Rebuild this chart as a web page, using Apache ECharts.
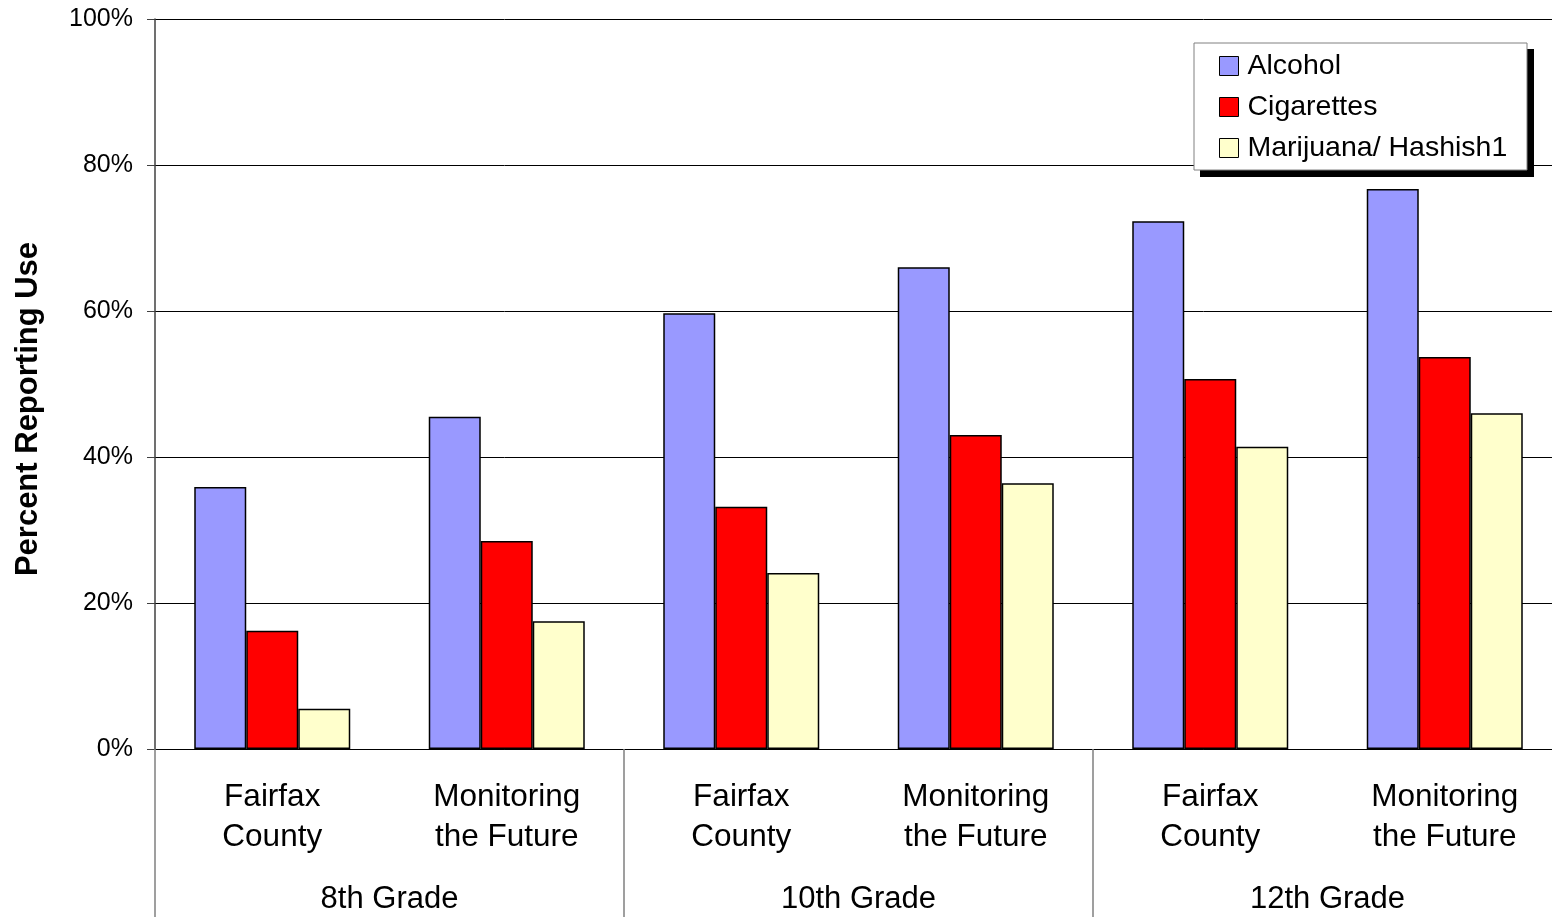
<!DOCTYPE html>
<html>
<head>
<meta charset="utf-8">
<script src="https://cdn.jsdelivr.net/npm/echarts@6/dist/echarts.min.js"></script>
<style>
  html, body { margin: 0; padding: 0; background: #fff; }
  #chart { width: 1552px; height: 917px; }
</style>
</head>
<body>
<div id="chart"></div>
<script>
// Survey groups (inner axis) and grades (outer axis)
const groups = ['Fairfax\nCounty', 'Monitoring\nthe Future', 'Fairfax\nCounty', 'Monitoring\nthe Future', 'Fairfax\nCounty', 'Monitoring\nthe Future'];
const grades = ['8th Grade', '10th Grade', '12th Grade'];

// Percent reporting use
const alcohol = [35.9, 45.5, 59.7, 66.0, 72.3, 76.7];
const cigarettes = [16.2, 28.5, 33.2, 43.0, 50.7, 53.7];
const marijuana = [5.5, 17.5, 24.1, 36.4, 41.4, 46.0];

const FONT = '"Liberation Sans", Arial, sans-serif';

const chart = echarts.init(document.getElementById('chart'), null, { renderer: 'canvas' });

const barStyle = (color) => ({ color: color, borderColor: '#000', borderWidth: 1.5 });

chart.setOption({
  animation: false,
  backgroundColor: '#fff',
  textStyle: { fontFamily: FONT, color: '#000' },
  // plot runs slightly past the right edge of the canvas
  grid: { left: 155, top: 19, width: 1407, bottom: 168, containLabel: false, outerBoundsMode: 'none' },
  graphic: [
    // legend frame with drop shadow
    { type: 'rect', z: 50, shape: { x: 1200, y: 49, width: 334, height: 128 }, style: { fill: '#000' } },
    { type: 'rect', z: 51, shape: { x: 1194, y: 43, width: 333, height: 127 }, style: { fill: '#fff', stroke: '#808080', lineWidth: 1 } },
    // y-axis title
    {
      type: 'text', z: 10, x: 28, y: 409, rotation: Math.PI / 2,
      style: {
        text: 'Percent Reporting Use', fontFamily: FONT, fontSize: 31, fontWeight: 'bold',
        fill: '#000', align: 'center', verticalAlign: 'middle'
      }
    }
  ],
  legend: {
    z: 60,
    orient: 'vertical',
    left: 1214,
    top: 45,
    itemWidth: 19,
    itemHeight: 19,
    itemGap: 9,
    icon: 'rect',
    itemStyle: { borderColor: '#000', borderWidth: 1 },
    textStyle: { fontFamily: FONT, fontSize: 28.5, lineHeight: 32, color: '#000', padding: [0, 0, 0, 4] },
    data: ['Alcohol', 'Cigarettes', 'Marijuana/ Hashish1']
  },
  xAxis: [
    {
      type: 'category',
      data: groups,
      position: 'bottom',
      axisLine: { show: true, lineStyle: { color: '#000', width: 1 } },
      axisTick: { show: false },
      axisLabel: {
        interval: 0,
        fontFamily: FONT,
        fontSize: 31.5,
        lineHeight: 40,
        color: '#000',
        margin: 28
      }
    },
    {
      type: 'category',
      data: grades,
      position: 'bottom',
      axisLine: { show: false },
      axisTick: { show: true, length: 168, lineStyle: { color: '#808080', width: 1.5 } },
      axisLabel: {
        interval: 0,
        fontFamily: FONT,
        fontSize: 31,
        lineHeight: 30,
        color: '#000',
        margin: 135
      }
    }
  ],
  yAxis: {
    type: 'value',
    min: 0,
    max: 100,
    interval: 20,
    axisLine: { show: true, lineStyle: { color: '#404040', width: 1.5 } },
    axisTick: { show: true, length: 8, lineStyle: { color: '#404040', width: 1 } },
    axisLabel: { formatter: '{value}%', fontFamily: FONT, fontSize: 25, color: '#000', margin: 22 },
    splitLine: { show: true, lineStyle: { color: '#000', width: 1 } }
  },
  series: [
    { name: 'Alcohol', type: 'bar', data: alcohol, barWidth: 52, barGap: '0%', itemStyle: barStyle('#9999FF') },
    { name: 'Cigarettes', type: 'bar', data: cigarettes, barWidth: 52, barGap: '0%', itemStyle: barStyle('#FF0000') },
    { name: 'Marijuana/ Hashish1', type: 'bar', data: marijuana, barWidth: 52, barGap: '0%', itemStyle: barStyle('#FFFFCC') }
  ]
});
</script>
</body>
</html>
